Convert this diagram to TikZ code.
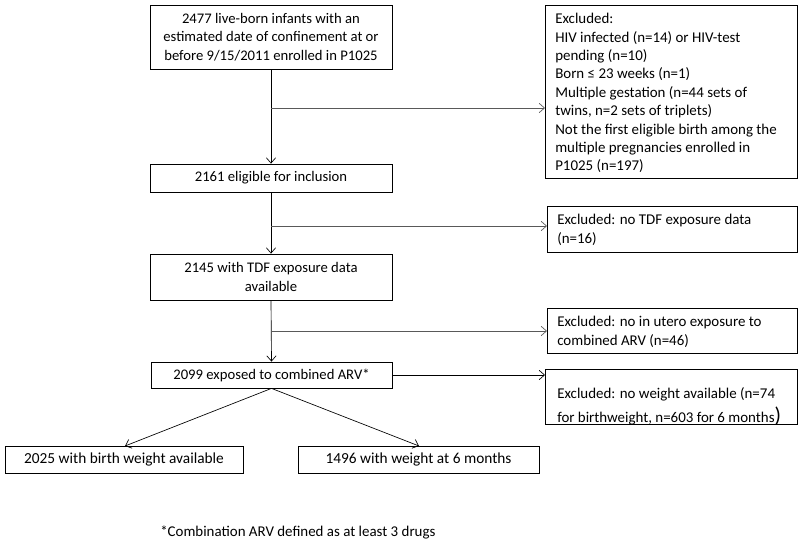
\documentclass[tikz,border=0pt]{standalone}
\usepackage{fontspec}
\setmainfont{Carlito}
\usetikzlibrary{arrows.meta}
\begin{document}
\begin{tikzpicture}[x=0.75pt,y=-0.75pt,
  box/.style={draw,line width=0.6pt,inner sep=0pt,font=\fontsize{11}{14}\selectfont,align=center},
  exframe/.style={draw,line width=0.6pt,inner sep=0pt,anchor=north west},
  extext/.style={anchor=north west,inner sep=0pt,align=left,font=\fontsize{11.2}{13.8}\selectfont},
  conn/.style={line width=0.5pt,-{Straight Barb[length=4pt,width=7pt]}},
  branch/.style={conn,draw=black!65}]
\useasboundingbox (0,0) rectangle (800,541);
% main boxes
\node[box,minimum width=242*0.75pt,minimum height=64*0.75pt] (b1) at (271,37) {\raisebox{-1.5pt}{\parbox{240\dimexpr0.75pt\relax}{\centering 2477 live-born infants with an\\estimated date of confinement at or\\before 9/15/2011 enrolled in P1025}}};
\node[box,minimum width=242*0.75pt,minimum height=28*0.75pt] (b2) at (271,178) {2161 eligible for inclusion};
\node[box,minimum width=242*0.75pt,minimum height=46*0.75pt] (b3) at (271,277) {2145 with TDF exposure data\\available};
\node[box,minimum width=241*0.75pt,minimum height=26*0.75pt] (b4) at (271.5,375) {2099 exposed to combined ARV*};
\node[box,font=\fontsize{11.5}{14}\selectfont,minimum width=238*0.75pt,minimum height=27*0.75pt] (b5) at (124,459.5) {2025 with birth weight available};
\node[box,font=\fontsize{11.5}{14}\selectfont,minimum width=241*0.75pt,minimum height=27*0.75pt] (b6) at (418.5,459.5) {1496 with weight at 6 months};
% excluded boxes
\node[exframe,minimum width=252*0.75pt,minimum height=173*0.75pt] (e1) at (545,5) {};
\node[extext] (t1) at (555,13) {Excluded:\\HIV infected (n=14) or HIV-test\\pending (n=10)\\Born ≤ 23 weeks (n=1)\\Multiple gestation (n=44 sets of\\twins, n=2 sets of triplets)\\Not the first eligible birth among the\\multiple pregnancies enrolled in\\P1025 (n=197)};
\node[exframe,minimum width=250*0.75pt,minimum height=46*0.75pt] (e2) at (547,206) {};
\node[extext] (t2) at (557,214) {Excluded: no TDF exposure data\\(n=16)};
\node[exframe,minimum width=250*0.75pt,minimum height=45*0.75pt] (e3) at (547,308) {};
\node[extext] (t3) at (557,316) {Excluded: no in utero exposure to\\combined ARV (n=46)};
\node[exframe,minimum width=252*0.75pt,minimum height=55*0.75pt] (e4) at (545,369) {};
\node[extext,font=\fontsize{11.2}{18}\selectfont] (t4) at (557,387) {Excluded: no weight available (n=74\\for birthweight, n=603 for 6 months{\fontsize{16}{16}\selectfont)}};
% footnote
\node[anchor=west,inner sep=0pt,font=\fontsize{11.2}{14}\selectfont] (fn) at (160,532) {*Combination ARV defined as at least 3 drugs};
% connectors
\coordinate (j1) at (b1.south |- 0,108);
\coordinate (j2) at (b2.south |- 0,226);
\coordinate (j3) at (b3.south |- 0,331);
\coordinate (k5) at (125,446);
\coordinate (k6) at (419,446);
\draw[conn] (b1.south) -- (b2.north);
\draw[conn] (b2.south) -- (b3.north);
\draw[conn] (b3.south) -- (b4.north);
\draw[branch] (j1) -- (e1.west |- j1);
\draw[branch] (j2) -- (e2.west |- j2);
\draw[branch] (j3) -- (e3.west |- j3);
\draw[conn] (b4.east) -- (e4.west |- b4.east);
\draw[conn] (b4.south) -- (k5);
\draw[conn] (b4.south) -- (k6);
\end{tikzpicture}
\end{document}
